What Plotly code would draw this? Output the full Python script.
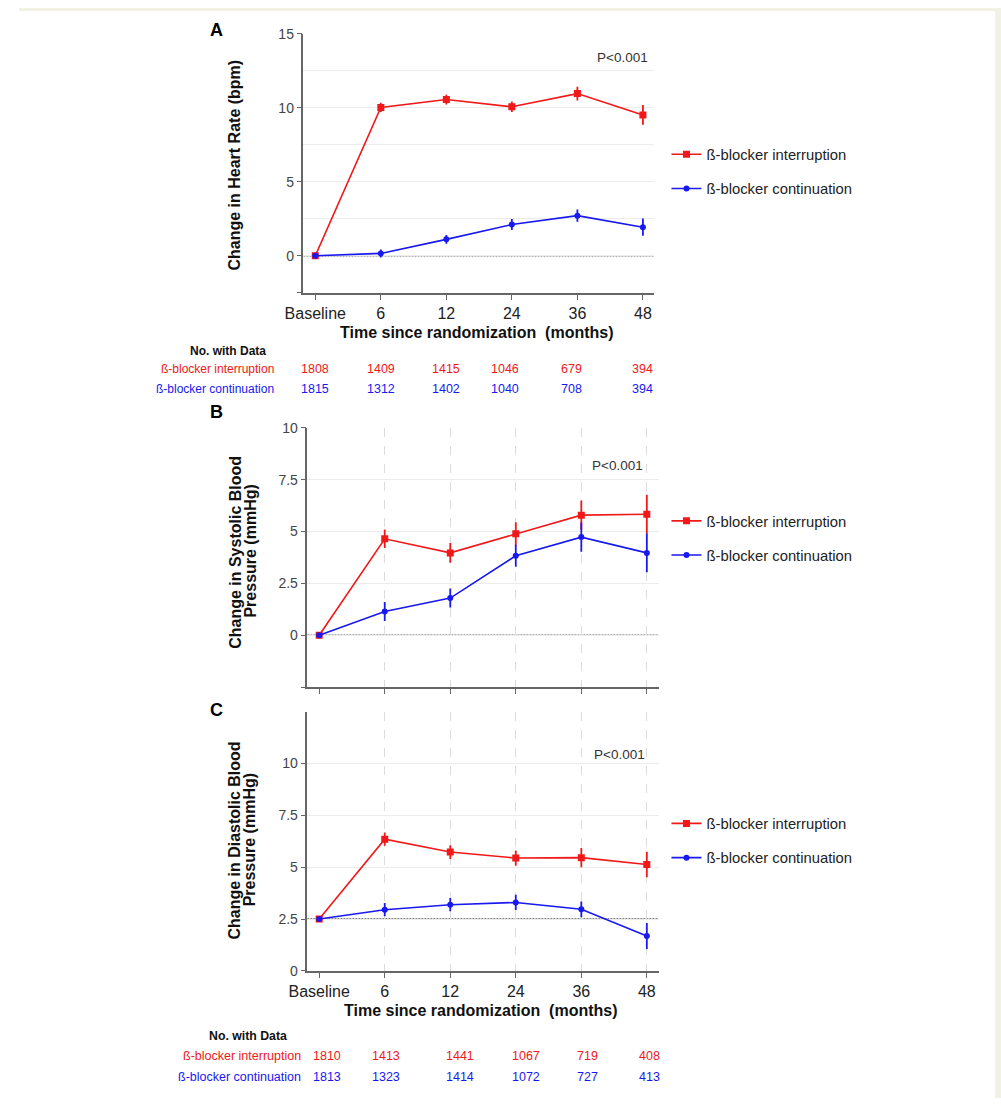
import plotly.graph_objects as go

W, H = 1001, 1106

# ---------------- data ----------------
time_labels = ["Baseline", "6", "12", "24", "36", "48"]
groups = ["ß-blocker interruption", "ß-blocker continuation"]

hr_interruption = [0.0, 10.02, 10.55, 10.06, 10.95, 9.51]
hr_interruption_err = [0.0, 0.32, 0.33, 0.36, 0.47, 0.67]
hr_continuation = [0.0, 0.16, 1.11, 2.11, 2.71, 1.93]
hr_continuation_err = [0.0, 0.27, 0.29, 0.37, 0.42, 0.58]

sbp_interruption = [0.0, 4.65, 3.97, 4.89, 5.79, 5.83]
sbp_interruption_err = [0.0, 0.45, 0.48, 0.56, 0.71, 0.94]
sbp_continuation = [0.0, 1.14, 1.79, 3.83, 4.73, 3.97]
sbp_continuation_err = [0.0, 0.46, 0.46, 0.53, 0.70, 0.93]

dbp_interruption = [2.5, 6.35, 5.73, 5.44, 5.46, 5.13]
dbp_interruption_err = [0.0, 0.32, 0.33, 0.37, 0.46, 0.61]
dbp_continuation = [2.5, 2.95, 3.19, 3.30, 2.97, 1.68]
dbp_continuation_err = [0.0, 0.32, 0.32, 0.37, 0.38, 0.63]

n_hr_interruption = [1808, 1409, 1415, 1046, 679, 394]
n_hr_continuation = [1815, 1312, 1402, 1040, 708, 394]
n_bp_interruption = [1810, 1413, 1441, 1067, 719, 408]
n_bp_continuation = [1813, 1323, 1414, 1072, 727, 413]

p_text = "P<0.001"

RED = "#f01818"
BLUE = "#1818f0"
FONT = "Liberation Sans, Arial, sans-serif"
AXC = "#666666"
TXT = "#333333"

xpos = list(range(len(time_labels)))


def px(x):
    return x / W


def py(y):
    return 1 - y / H


fig = go.Figure()

panels = [
    ("x", "y", "legend", hr_interruption, hr_interruption_err, hr_continuation, hr_continuation_err),
    ("x2", "y2", "legend2", sbp_interruption, sbp_interruption_err, sbp_continuation, sbp_continuation_err),
    ("x3", "y3", "legend3", dbp_interruption, dbp_interruption_err, dbp_continuation, dbp_continuation_err),
]

for xa, ya, lg, rv, re, bv, be in panels:
    fig.add_trace(go.Scatter(
        x=xpos, y=rv, xaxis=xa, yaxis=ya, legend=lg, legendgroup=lg + "r",
        name=groups[0], mode="lines+markers",
        line=dict(color=RED, width=1.6),
        marker=dict(symbol="square", size=7, color=RED),
        error_y=dict(type="data", array=re, visible=True, color=RED, thickness=1.8, width=0),
    ))
    fig.add_trace(go.Scatter(
        x=xpos, y=bv, xaxis=xa, yaxis=ya, legend=lg, legendgroup=lg + "b",
        name=groups[1], mode="lines+markers",
        line=dict(color=BLUE, width=1.6),
        marker=dict(symbol="circle", size=6, color=BLUE),
        error_y=dict(type="data", array=be, visible=True, color=BLUE, thickness=1.8, width=0),
    ))

# ---------------- axes ----------------
xrA = [-0.18, 5.165]
xrBC = [-0.18, 5.18]

common_x = dict(
    tickmode="array", tickvals=xpos, ticks="outside", ticklen=5, tickcolor=AXC,
    showline=True, linecolor=AXC, linewidth=1.5, zeroline=False,
    tickfont=dict(size=16, color="#222222", family=FONT),
)
common_y = dict(
    ticks="outside", ticklen=5, tickcolor=AXC, showline=True, linecolor=AXC, linewidth=1.5,
    zeroline=False, showgrid=True, gridcolor="#ececec", gridwidth=1,
    tickfont=dict(size=14, color="#444444", family=FONT),
)

fig.update_layout(
    xaxis=dict(domain=[px(290), px(647)], range=xrA, anchor="y",
               ticktext=time_labels, showgrid=False, **common_x),
    yaxis=dict(domain=[py(289), py(26)], range=[-2.5, 15], anchor="x",
               tickmode="array", tickvals=[-2.5, 0, 5, 10, 15], ticktext=["", "0", "5", "10", "15"],
               minor=dict(tickvals=[2.5, 7.5, 12.5], showgrid=True, gridcolor="#ececec", ticks=""),
               **common_y),
    xaxis2=dict(domain=[px(294), px(652)], range=xrBC, anchor="y2",
                ticktext=[""] * 6, showgrid=False,
                minor=dict(tickvals=[1, 2, 3, 4, 5], showgrid=True, gridcolor="#dcdcdc",
                           griddash="dash", ticks=""),
                **common_x),
    yaxis2=dict(domain=[py(689), py(426)], range=[-2.5, 10], anchor="x2",
                tickmode="array", tickvals=[-2.5, 0, 2.5, 5, 7.5, 10],
                ticktext=["", "0", "2.5", "5", "7.5", "10"], **common_y),
    xaxis3=dict(domain=[px(294), px(652)], range=xrBC, anchor="y3",
                ticktext=time_labels, showgrid=False,
                minor=dict(tickvals=[1, 2, 3, 4, 5], showgrid=True, gridcolor="#dcdcdc",
                           griddash="dash", ticks=""),
                **common_x),
    yaxis3=dict(domain=[py(977), py(714)], range=[0, 12.5], anchor="x3",
                tickmode="array", tickvals=[0, 2.5, 5, 7.5, 10],
                ticktext=["0", "2.5", "5", "7.5", "10"],
                minor=dict(tickvals=[12.5], showgrid=True, gridcolor="#ececec", ticks=""),
                **common_y),
)

# ---------------- legends ----------------
leg_common = dict(
    font=dict(size=14.8, color="#222222", family=FONT), bgcolor="rgba(0,0,0,0)",
    xanchor="left", yanchor="top", tracegroupgap=12, itemwidth=30,
)
fig.update_layout(
    legend=dict(x=px(660), y=py(132), **leg_common),
    legend2=dict(x=px(660), y=py(504), **leg_common),
    legend3=dict(x=px(660), y=py(811), **leg_common),
)

# ---------------- reference lines ----------------
shapes = []
for xa, ya, yv in [("x", "y", 0), ("x2", "y2", 0), ("x3", "y3", 2.5)]:
    shapes.append(dict(type="line", xref=xa + " domain", yref=ya, x0=0, x1=1, y0=yv, y1=yv,
                       line=dict(color="#000000", width=1, dash="2px,1px"), layer="below"))
shapes.append(dict(type="rect", xref="paper", yref="paper", x0=0, x1=1, y0=py(3), y1=1,
                   fillcolor="#f1f1e4", line=dict(width=0), layer="below"))
shapes.append(dict(type="rect", xref="paper", yref="paper", x0=px(995), x1=1, y0=0, y1=1,
                   fillcolor="#f1f1e4", line=dict(width=0), layer="below"))
fig.update_layout(shapes=shapes)

# ---------------- annotations ----------------
ann = []


def A(text, x, y, size, color="#222222", bold=False, xanchor="center", yanchor="middle", angle=0):
    if bold:
        text = "<b>" + text + "</b>"
    ann.append(dict(text=text, x=px(x), y=py(y), xref="paper", yref="paper", showarrow=False,
                    xanchor=xanchor, yanchor=yanchor, textangle=angle,
                    font=dict(size=size, color=color, family=FONT)))


A("A", 201, 22, 18, "#000000", True)
A("B", 201, 410, 18, "#000000", True)
A("C", 201, 712, 18, "#000000", True)

A("Change in Heart Rate (bpm)", 220, 159, 16, "#111111", True, angle=-90)
A("Change in Systolic Blood", 220, 552, 16, "#111111", True, angle=-90)
A("Pressure (mmHg)", 235, 551, 16, "#111111", True, angle=-90)
A("Change in Diastolic Blood", 220, 845, 16, "#111111", True, angle=-90)
A("Pressure (mmHg)", 235, 844, 16, "#111111", True, angle=-90)

A("Time since randomization  (months)", 467, 329, 16, "#111111", True)
A("Time since randomization  (months)", 471, 1017, 16, "#111111", True)

A(p_text, 615, 50, 13.5, TXT)
A(p_text, 610, 464, 13.5, TXT)
A(p_text, 612, 757, 13.5, TXT)

A("No. with Data", 172, 348, 12, "#111111", True, xanchor="left")
A(groups[0], 262, 366, 12, RED, xanchor="right")
A(groups[1], 262, 387, 12, BLUE, xanchor="right")
colsA = [302, 369, 435.5, 495.5, 563.5, 636]
for i, c in enumerate(colsA):
    A(str(n_hr_interruption[i]), c, 366, 12.5, RED)
    A(str(n_hr_continuation[i]), c, 387, 12.5, BLUE)

A("No. with Data", 192, 1043, 12.3, "#111111", True, xanchor="left")
A(groups[0], 289, 1063, 12.5, RED, xanchor="right")
A(groups[1], 289, 1085, 12.5, BLUE, xanchor="right")
colsC = [314, 374, 450, 516.5, 579, 643]
for i, c in enumerate(colsC):
    A(str(n_bp_interruption[i]), c, 1063, 12.5, RED)
    A(str(n_bp_continuation[i]), c, 1085, 12.5, BLUE)

fig.update_layout(
    annotations=ann,
    width=W, height=H, margin=dict(l=0, r=0, t=0, b=0),
    paper_bgcolor="white", plot_bgcolor="white",
    font=dict(family=FONT),
    showlegend=True,
)

post = ("document.documentElement.style.margin='0';"
        "document.body.style.margin='0';document.body.style.overflow='hidden';")

fig.write_html("out.html", config={"displayModeBar": False}, post_script=post)
